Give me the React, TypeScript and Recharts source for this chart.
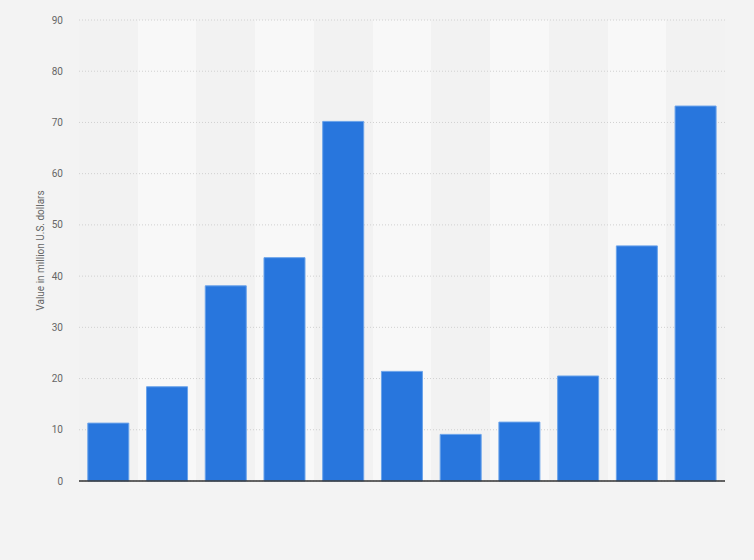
import React from 'react';
import { BarChart, Bar, XAxis, YAxis, CartesianGrid } from 'recharts';

const categories = ['Category 1', 'Category 2', 'Category 3', 'Category 4', 'Category 5', 'Category 6', 'Category 7', 'Category 8', 'Category 9', 'Category 10', 'Category 11'];
const values = [11.3, 18.4, 38.1, 43.6, 70.2, 21.4, 9.1, 11.5, 20.5, 45.9, 73.2];
const yTicks = [0, 10, 20, 30, 40, 50, 60, 70, 80, 90];
const yLabel = 'Value in million U.S. dollars';
const bandFills = ['#f2f2f2', '#f8f8f8'];

const data = categories.map((name, i) => ({ name, value: values[i] }));

const bandBoundaries = (props: any) => {
  const xAxis = props && props.xAxis;
  let scale: any = xAxis && xAxis.scale;
  if (scale && typeof scale !== 'function' && typeof scale.scale === 'function') scale = scale.scale;
  let pts: number[] = [];
  if (scale && typeof scale === 'function') {
    try {
      pts = categories.map((c) => scale(c)).filter((v: any) => typeof v === 'number' && !isNaN(v));
    } catch (e) {
      pts = [];
    }
  }
  if (pts.length !== categories.length && props && props.offset) {
    const { left, width } = props.offset;
    pts = categories.map((_, i) => left + (i * width) / categories.length);
  }
  return pts;
};

export default function App() {
  return (
    <div style={{ width: 754, height: 560, background: '#f3f3f3', position: 'absolute', left: 0, top: 0 }}>
      <style>{`body{margin:0;}`}</style>
      <BarChart
        width={754}
        height={560}
        data={data}
        margin={{ top: 20, right: 29, left: 0, bottom: 49 }}
        barCategoryGap="15%"
      >
        <CartesianGrid
          horizontal={false}
          vertical={true}
          stroke="none"
          verticalFill={bandFills}
          fillOpacity={1}
          verticalCoordinatesGenerator={bandBoundaries}
        />
        <CartesianGrid vertical={false} stroke="#d0d0d0" strokeDasharray="1 2" />
        <XAxis
          dataKey="name"
          tick={false}
          tickLine={false}
          axisLine={{ stroke: '#333333', strokeWidth: 1.5 }}
          height={30}
        />
        <YAxis
          width={79}
          domain={[0, 90]}
          ticks={yTicks}
          axisLine={false}
          tickLine={false}
          tickSize={0}
          tickMargin={16}
          tick={{ fill: '#666666', fontSize: 10, fontFamily: 'Roboto, Arial, sans-serif' }}
          label={{
            value: yLabel,
            angle: -90,
            position: 'insideLeft',
            dx: 35,
            style: { textAnchor: 'middle', fill: '#666666', fontSize: 10, fontFamily: 'Roboto, Arial, sans-serif' },
          }}
        />
        <Bar dataKey="value" fill="#2876dd" stroke="#6aa3ea" strokeWidth={1} isAnimationActive={false} />
      </BarChart>
    </div>
  );
}
